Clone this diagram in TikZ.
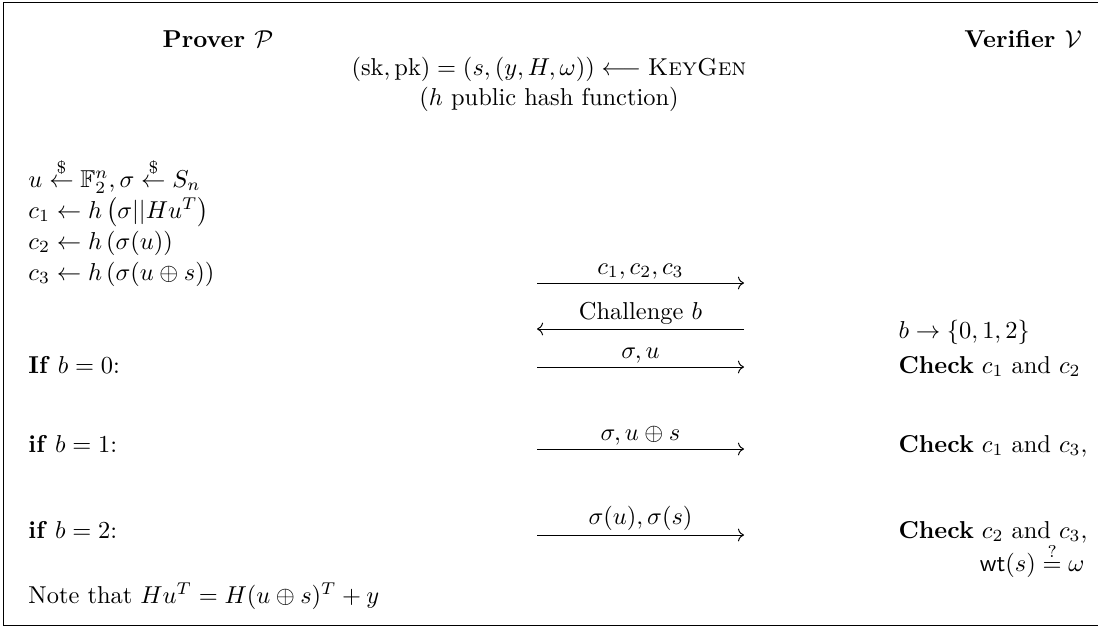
\documentclass[tikz,border=0pt]{standalone}
\usepackage{amsmath}
\usepackage{amssymb}
\usepackage{tikz}
\usetikzlibrary{arrows.meta, positioning}

\begin{document}
\begin{tikzpicture}[
        x=0.01439cm, y=-0.01439cm,
        txt/.style={anchor=base west, inner sep=0pt},
        rtxt/.style={anchor=base east, inner sep=0pt},
        msg/.style={->, thin},
        lab/.style={above, inner sep=1.5pt}
      ]
        \useasboundingbox (0,0) rectangle (1098,628);
        \draw (1098,2) -- (3,2) -- (3,625) -- (1098,625);

        \node[font=\bfseries] (prv) at (218,39) {Prover $\mathcal{P}$};
        \node[font=\bfseries] (vrf) at (1023,39) {Verifier $\mathcal{V}$};
        \node (key)  at (549,69) {$(\mathrm{sk},\mathrm{pk}) = (s,(y,H,\omega)) \longleftarrow \textsc{KeyGen}$};
        \node (hash) at (549,99) {($h$ public hash function)};

        \node[txt] (samp) at (28,187) {$u \overset{\$}{\leftarrow} \mathbb{F}_2^n, \sigma \overset{\$}{\leftarrow} S_n$};
        \node[txt] (com1) at (28,218) {$c_1 \leftarrow h\left(\sigma || Hu^T\right)$};
        \node[txt] (com2) at (28,249) {$c_2 \leftarrow h\left(\sigma(u)\right)$};
        \node[txt] (com3) at (28,280) {$c_3 \leftarrow h\left(\sigma(u \oplus s)\right)$};
        \node[txt] (if0)  at (28,373) {\textbf{If} $b=0$:};
        \node[txt] (if1)  at (28,452) {\textbf{if} $b=1$:};
        \node[txt] (if2)  at (28,538) {\textbf{if} $b=2$:};
        \node[txt] (note) at (28,603) {Note that $Hu^T = H(u \oplus s)^T + y$};

        \node[txt]  (chal) at (898,338) {$b \rightarrow \{0,1,2\}$};
        \node[txt]  (chk0) at (898,373) {\textbf{Check} $c_1$ and $c_2$};
        \node[txt]  (chk1) at (898,452) {\textbf{Check} $c_1$ and $c_3$,};
        \node[txt]  (chk2) at (898,538) {\textbf{Check} $c_2$ and $c_3$,};
        \node[rtxt] (wt)   at (1085,571) {$\mathsf{wt}(s) \overset{?}{=} \omega$};

        \coordinate (m1l) at (537,283); \coordinate (m1r) at (744,283);
        \coordinate (m2l) at (537,329); \coordinate (m2r) at (744,329);
        \coordinate (m3l) at (537,367); \coordinate (m3r) at (744,367);
        \coordinate (m4l) at (537,449); \coordinate (m4r) at (744,449);
        \coordinate (m5l) at (537,535); \coordinate (m5r) at (744,535);
        \draw[msg] (m1l) -- node[lab] {$c_1, c_2, c_3$} (m1r);
        \draw[msg] (m2r) -- node[lab] {Challenge $b$} (m2l);
        \draw[msg] (m3l) -- node[lab] {$\sigma, u$} (m3r);
        \draw[msg] (m4l) -- node[lab] {$\sigma, u \oplus s$} (m4r);
        \draw[msg] (m5l) -- node[lab] {$\sigma(u), \sigma(s)$} (m5r);
      \end{tikzpicture}
\end{document}
